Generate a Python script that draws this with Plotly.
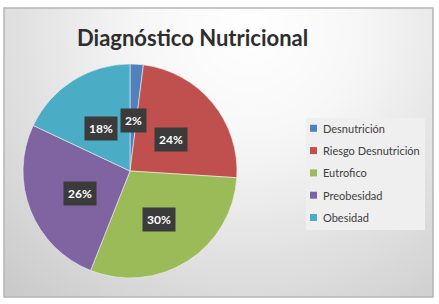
import math
import plotly.graph_objects as go

categories = ["Desnutrición", "Riesgo Desnutrición", "Eutrofico", "Preobesidad", "Obesidad"]
values = [2, 24, 30, 26, 18]
colors = ["#4F81BD", "#C0504D", "#9BBB59", "#8064A2", "#4BACC6"]
title_text = "Diagnóstico Nutricional"

W, H = 439, 304
cx, cy, r = 130, 171, 107  # pie centre / radius in pixels
FONT = "Lato, Open Sans, sans-serif"

fig = go.Figure()

# background gradient (styling only)
fx0, fy0, fx1, fy1 = 4, 8, 433, 297
nx, ny = 44, 30
dx = (fx1 - fx0) / nx
dy = (fy1 - fy0) / ny
xs = [fx0 + dx * (i + 0.5) for i in range(nx)]
ys = [fy0 + dy * (j + 0.5) for j in range(ny)]
z = [[min(1.0, math.hypot(x - 250, y - 30) / 360.0) for x in xs] for y in ys]
fig.add_trace(go.Heatmap(x=xs, y=ys, z=z, zmin=0, zmax=1, zsmooth="best",
                         colorscale=[[0, "#ffffff"], [0.3, "#f7f7f7"], [1, "#c9c9c9"]],
                         showscale=False, hoverinfo="skip", showlegend=False))

fig.add_trace(go.Pie(
    labels=categories, values=values, sort=False, direction="clockwise", rotation=0,
    marker=dict(colors=colors, line=dict(color="#f0f0f0", width=0.6)),
    textinfo="none", hoverinfo="label+percent", showlegend=False,
    domain=dict(x=[(cx - r) / W, (cx + r) / W], y=[1 - (cy + r) / H, 1 - (cy - r) / H]),
))

# data labels placed at half radius along each slice's mid angle
total = sum(values)
cum = 0
for v in values:
    mid = (cum + v / 2) / total * 2 * math.pi
    cum += v
    lx = cx + 0.5 * r * math.sin(mid)
    ly = cy + 3 - 0.5 * r * math.cos(mid)
    fig.add_annotation(x=lx, y=ly, xref="x", yref="y", xanchor="center", yanchor="middle",
                       text=f"<b>{round(v / total * 100)}%</b>", showarrow=False,
                       font=dict(family=FONT, size=12, color="white"),
                       bgcolor="#3b3b3b", borderpad=4)

fig.add_annotation(x=192, y=37, xref="x", yref="y", xanchor="center", yanchor="middle",
                   text=f"<b>{title_text}</b>", showarrow=False,
                   font=dict(family=FONT, size=22, color="#2e2e2e"))

# legend box with one entry per category
lx0, ly0, lx1, ly1 = 306, 118, 425, 230
row0, rowstep = 128.3, 22.3
fig.add_shape(type="rect", xref="x", yref="y", x0=lx0, y0=ly0, x1=lx1, y1=ly1,
              line=dict(width=0), fillcolor="#efefef", layer="above")
for i, (name, col) in enumerate(zip(categories, colors)):
    yy = row0 + i * rowstep
    fig.add_shape(type="rect", xref="x", yref="y", x0=310, x1=317, y0=yy - 3.5, y1=yy + 3.5,
                  line=dict(width=0), fillcolor=col, layer="above")
    fig.add_annotation(x=321, y=yy, xref="x", yref="y", xanchor="left", yanchor="middle",
                       text=name, showarrow=False,
                       font=dict(family=FONT, size=11, color="#404040"))

# chart frame
fig.add_shape(type="rect", xref="x", yref="y", x0=fx0, y0=fy0, x1=fx1, y1=fy1,
              line=dict(color="#b5b5b5", width=1.5), fillcolor="rgba(0,0,0,0)", layer="above")

fig.update_layout(
    width=W, height=H, margin=dict(l=0, r=0, t=0, b=0),
    paper_bgcolor="white", plot_bgcolor="white",
    xaxis=dict(range=[0, W], visible=False, fixedrange=True),
    yaxis=dict(range=[H, 0], visible=False, fixedrange=True),
    showlegend=False,
)

fig.write_html("out.html", config={"displayModeBar": False},
               post_script="document.body.style.margin='0px';")
